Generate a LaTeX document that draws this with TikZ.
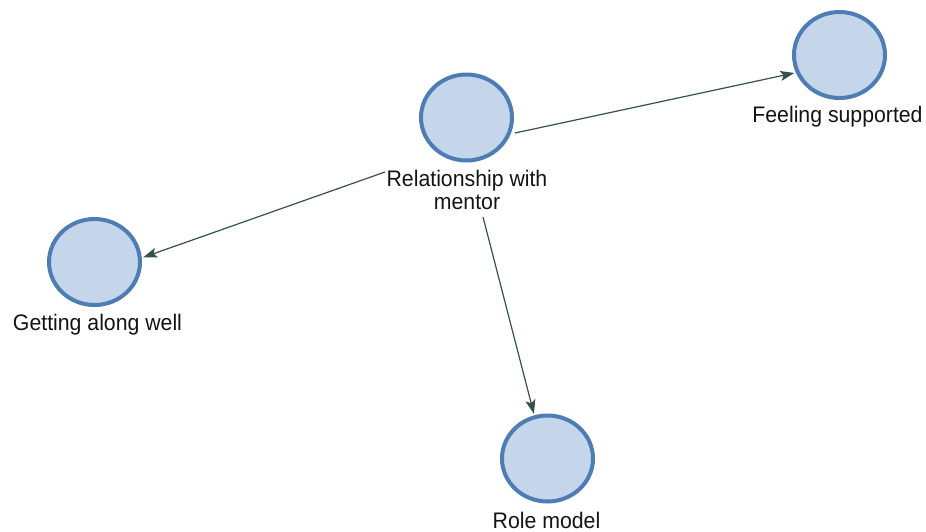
\documentclass[tikz,border=0pt]{standalone}
\usepackage{fontspec}
\setmainfont{Liberation Sans}
\usetikzlibrary{shapes.geometric,arrows.meta}
\definecolor{ringblue}{HTML}{4D7DB4}
\definecolor{fillblue}{HTML}{C5D5EA}
\definecolor{edgecol}{HTML}{34504F}
\definecolor{txtcol}{HTML}{141414}
\tikzset{
  topic/.style={ellipse, draw=ringblue, fill=fillblue, line width=4pt, minimum width=91pt, minimum height=86pt, inner sep=0pt},
  lbl/.style={font=\fontsize{22.5}{23}\selectfont, text=txtcol, xscale=0.945, inner sep=0pt, align=center},
  link/.style={draw=edgecol, line width=1.2pt, -{Stealth[length=14pt,width=10pt,inset=3pt]}, shorten >=1.5pt}
}
\begin{document}
\begin{tikzpicture}[x=1pt,y=-1pt]
\useasboundingbox (0,0) rectangle (926,531);
\node[topic] (rwm) at (466.5,117.5) {};
\node[topic] (fs) at (839.5,55) {};
\node[topic] (gaw) at (94.5,262) {};
\node[topic] (rm) at (547.5,458.5) {};
\node[lbl, anchor=base] (rwmt1) at (467,186.5) {Relationship with};
\node[lbl, anchor=base] (rwmt2) at (467,209.5) {mentor};
\node[lbl, anchor=base] (fst) at (837.5,122) {Feeling supported};
\node[lbl, anchor=base] (gawt) at (97.5,330) {Getting along well};
\node[lbl, anchor=base] (rmt) at (546.5,528) {Role model};
\coordinate (s1) at (515,133);
\coordinate (s2) at (385,172);
\coordinate (s3) at (483,217);
\draw[link] (s1) -- (fs.202);
\draw[link] (s2) -- (gaw.5);
\draw[link] (s3) -- (rm.107);
\end{tikzpicture}
\end{document}
